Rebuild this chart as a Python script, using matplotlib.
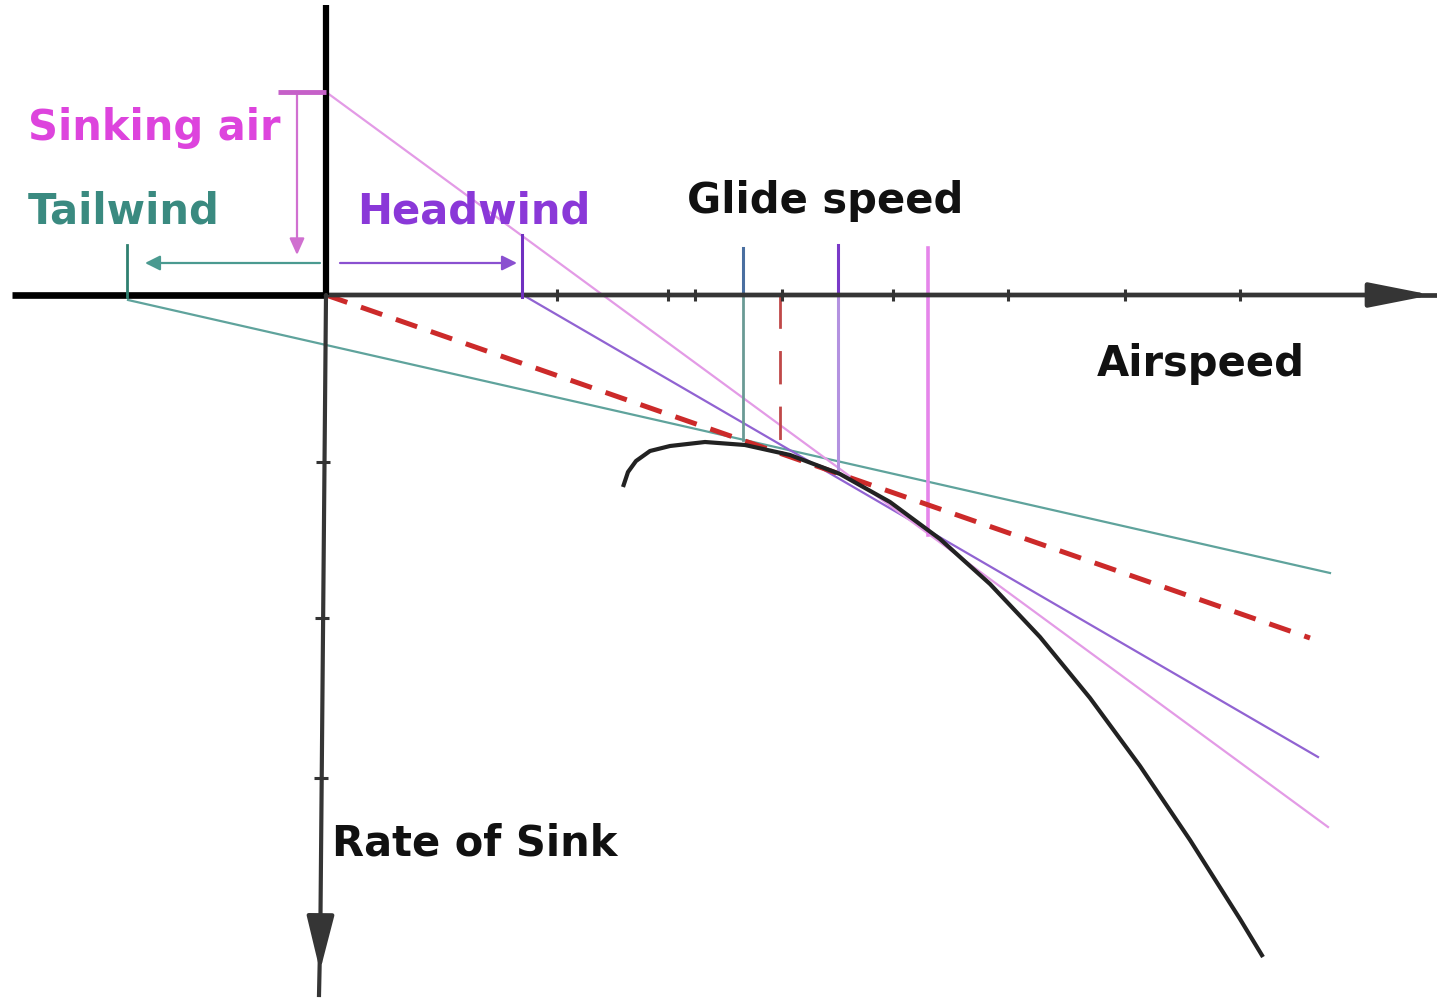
import matplotlib
matplotlib.use("Agg")
import matplotlib.pyplot as plt

plt.rcParams['font.family'] = ['DejaVu Sans']

# ---- data (airspeed to the right, sink downward; origin at axes crossing) ----
polar_airspeed = [297, 302, 310, 324, 344, 379, 419, 464, 514, 564, 614, 664, 714, 764, 814, 864, 914, 937]
polar_sink     = [192, 177, 166, 156, 151, 147, 150, 160, 179, 207, 244, 289, 342, 403, 471, 545, 624, 662]

tick_airspeed = [231, 342, 369, 456, 567, 682, 799, 914]
tick_sink = [167, 323, 483]

# tangent lines (start/end)
still_air_x, still_air_y = [0, 984], [0, 343]
tailwind_x, tailwind_y = [-198, 1004], [5, 278]
headwind_x, headwind_y = [197, 992], [0, 462]
sinking_x, sinking_y = [0, 1002], [-203, 532]

# glide speed markers (airspeed, top, bottom)
glide_tail = [417, -47, 145]
glide_still = [454, 0, 160]
glide_head = [512, -50, 178]
glide_sink = [602, -47, 240]

# wind / sink offsets
tailwind_offset = -199
headwind_offset = 196
sink_offset = -203

labels = ["Sinking air", "Tailwind", "Headwind", "Glide speed", "Airspeed", "Rate of Sink"]

TEAL = '#3a8a80'
TEAL_LINE = '#5fa39c'
VIOLET = '#8a38d8'
VIOLET_LINE = '#9163d2'
PINK = '#dd44dd'
PINK_LINE = '#e39be6'
RED = '#cc2a2a'

fig = plt.figure(figsize=(14.37, 9.99), dpi=100)
ax = fig.add_axes([0, 0, 1, 1])
ax.set_xlim(-326, 1111)
ax.set_ylim(704, -295)
ax.axis('off')

# ---- axes ----
ax.plot([-314, 0], [0, 0], color='black', lw=4.8, solid_capstyle='butt', zorder=5)
ax.annotate('', xy=(1106, 0), xytext=(0, 0),
            arrowprops=dict(arrowstyle='-|>,head_length=3.8,head_width=0.75',
                            lw=3.4, color='#353535', shrinkA=0, shrinkB=0), zorder=5)
ax.plot([1050, 1111], [0, 0], color='#353535', lw=3.4, zorder=5)
ax.plot([0, 0], [-290, 0], color='black', lw=4.5, solid_capstyle='butt', zorder=5)
ax.annotate('', xy=(-6, 676), xytext=(0, 0),
            arrowprops=dict(arrowstyle='-|>,head_length=3.4,head_width=0.85',
                            lw=3.0, color='#353535', shrinkA=0, shrinkB=0), zorder=5)
ax.plot([-5.5, -7], [630, 700], color='#353535', lw=3.0, zorder=5)

ax.plot(tick_airspeed, [0] * len(tick_airspeed), linestyle='none', marker='|',
        markersize=9, markeredgewidth=2.2, color='#333333', zorder=6)
ax.plot([-3, -4, -5], tick_sink, linestyle='none', marker='_',
        markersize=10, markeredgewidth=2.2, color='#333333', zorder=6)

# ---- tangent lines ----
ax.plot(tailwind_x, tailwind_y, color=TEAL_LINE, lw=1.6, zorder=3)
ax.plot(headwind_x, headwind_y, color=VIOLET_LINE, lw=1.6, zorder=3)
ax.plot(sinking_x, sinking_y, color=PINK_LINE, lw=1.6, zorder=3)
ax.plot(still_air_x, still_air_y, color=RED, lw=3.6, dashes=(4.5, 2.9), zorder=4)

# ---- polar curve ----
ax.plot(polar_airspeed, polar_sink, color='#222222', lw=3.0, zorder=4,
        solid_joinstyle='round', solid_capstyle='butt')

# ---- glide speed verticals ----
ax.plot([glide_tail[0]] * 2, [glide_tail[1], 0], color='#4a6fa0', lw=2.2, zorder=3)
ax.plot([glide_tail[0]] * 2, [0, glide_tail[2]], color='#6a9a95', lw=2.0, zorder=3)
ax.plot([glide_head[0]] * 2, [glide_head[1], 0], color='#7a3ac8', lw=2.2, zorder=3)
ax.plot([glide_head[0]] * 2, [0, glide_head[2]], color='#b392e0', lw=2.2, zorder=3)
ax.plot([glide_sink[0]] * 2, [glide_sink[1], glide_sink[2]], color='#e585ea', lw=2.6, zorder=3)
ax.plot([glide_still[0]] * 2, [glide_still[1], glide_still[2]], color='#c04848', lw=2.0,
        dashes=(12, 8), zorder=3)

# ---- wind and sink annotations ----
ax.plot([tailwind_offset] * 2, [-50, 2], color='#2f8070', lw=2.0, zorder=6)
ax.annotate('', xy=(tailwind_offset + 18, -32), xytext=(-6, -32),
            arrowprops=dict(arrowstyle='-|>,head_length=0.9,head_width=0.45',
                            lw=1.6, color='#4a9a90', shrinkA=0, shrinkB=0))
ax.plot([headwind_offset] * 2, [-60, 2], color='#7030c0', lw=2.2, zorder=6)
ax.annotate('', xy=(headwind_offset - 5, -32), xytext=(14, -32),
            arrowprops=dict(arrowstyle='-|>,head_length=0.9,head_width=0.45',
                            lw=1.6, color='#8a50d0', shrinkA=0, shrinkB=0))
ax.plot([-48, 0], [sink_offset, sink_offset], color='#c560c8', lw=3.5, zorder=6,
        solid_capstyle='butt')
ax.annotate('', xy=(-29, -40), xytext=(-29, sink_offset),
            arrowprops=dict(arrowstyle='-|>,head_length=1.0,head_width=0.45',
                            lw=1.6, color='#d070d0', shrinkA=0, shrinkB=0))

# ---- labels ----
fs = 30
ax.text(-298, -155, labels[0], color=PINK, fontsize=fs, fontweight='bold', va='baseline')
ax.text(-298, -72, labels[1], color=TEAL, fontsize=fs, fontweight='bold', va='baseline')
ax.text(31, -72, labels[2], color=VIOLET, fontsize=fs, fontweight='bold', va='baseline')
ax.text(361, -82, labels[3], color='#111111', fontsize=fs, fontweight='bold', va='baseline')
ax.text(771, 81, labels[4], color='#111111', fontsize=fs, fontweight='bold', va='baseline')
ax.text(6, 561, labels[5], color='#111111', fontsize=fs, fontweight='bold', va='baseline')

fig.savefig('out.png', dpi=100, facecolor='white')
